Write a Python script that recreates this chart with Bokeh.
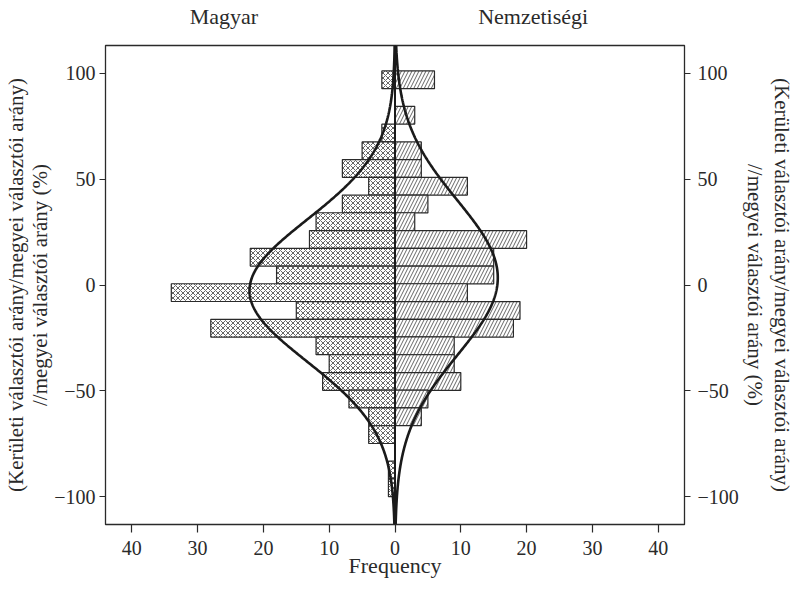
import numpy as np
from bokeh.plotting import figure
from bokeh.models import Range1d, LinearAxis, FixedTicker, Span
from bokeh.embed import file_html
from bokeh.resources import INLINE

# ---- data ----
bin_centers = [96.8, 88.4, 80.1, 71.7, 63.3, 55.0, 46.6, 38.2, 29.9, 21.5, 13.1, 4.7,
               -3.6, -12.0, -20.4, -28.7, -37.1, -45.5, -53.8, -62.2, -70.6, -79.0, -87.3, -95.7]
bin_height = 8.37
magyar_counts = [2, 0, 0, 2, 5, 8, 4, 8, 12, 13, 22, 18, 34, 15, 28, 12, 10, 11, 7, 4, 4, 0, 1, 1]
nemzetisegi_counts = [6, 0, 3, 0, 4, 4, 11, 5, 3, 20, 15, 15, 11, 19, 18, 9, 9, 10, 5, 4, 0, 0, 0, 0]
group_names = ["Magyar", "Nemzetiségi"]
group_label_x = [-26, 21]
x_ticks = [-40, -30, -20, -10, 0, 10, 20, 30, 40]
x_tick_labels = ["40", "30", "20", "10", "0", "10", "20", "30", "40"]
y_ticks = [-100, -50, 0, 50, 100]
y_tick_labels = ["\u2212100", "\u221250", "0", "50", "100"]
y_label_line1 = "(Kerületi választói arány/megyei választói arány)"
y_label_line2 = "//megyei választói arány (%)"
x_label = "Frequency"

FONT = "Liberation Serif"
INK = "#2a2a2a"

p = figure(width=796, height=581, output_backend="svg", toolbar_location=None,
           x_range=Range1d(-44, 44), y_range=Range1d(-113, 113),
           x_axis_location=None, y_axis_location=None,
           min_border_left=104, min_border_right=111, min_border_top=35, min_border_bottom=57)
p.grid.visible = False
p.outline_line_color = INK
p.outline_line_width = 1.3
p.background_fill_color = "white"
p.border_fill_color = "white"

centers = np.array(bin_centers)
m = np.array(magyar_counts, dtype=float)
n = np.array(nemzetisegi_counts, dtype=float)

mk = m > 0
p.hbar(y=centers[mk], height=bin_height, left=-m[mk], right=0,
       fill_color="white", line_color=INK, line_width=1.2,
       hatch_pattern="x", hatch_scale=5, hatch_weight=0.9, hatch_color="#555555")
nk = n > 0
p.hbar(y=centers[nk], height=bin_height, left=0, right=n[nk],
       fill_color="white", line_color=INK, line_width=1.2,
       hatch_pattern="/", hatch_scale=7, hatch_weight=0.9, hatch_color="#555555")

# fitted normal curves from the histogram data
ys = np.linspace(-113, 113, 600)
def normal_curve(counts):
    tot = counts.sum()
    mu = (counts * centers).sum() / tot
    sd = np.sqrt((counts * (centers - mu) ** 2).sum() / tot)
    return tot * bin_height / (sd * np.sqrt(2 * np.pi)) * np.exp(-0.5 * ((ys - mu) / sd) ** 2)

p.line(-normal_curve(m), ys, line_color="#1a1a1a", line_width=2.6)
p.line(normal_curve(n), ys, line_color="#1a1a1a", line_width=2.6)
p.add_layout(Span(location=0, dimension="height", line_color="#1a1a1a", line_width=2))

def style(ax, size="20px", label_size="21px"):
    ax.major_label_text_font = FONT
    ax.major_label_text_font_size = size
    ax.major_label_text_color = INK
    ax.axis_label_text_font = FONT
    ax.axis_label_text_font_size = label_size
    ax.axis_label_text_font_style = "normal"
    ax.axis_label_text_color = INK
    ax.axis_line_color = INK
    ax.major_tick_line_color = INK
    ax.major_tick_line_width = 1.2
    ax.minor_tick_line_color = None
    ax.major_tick_in = 0

standoffs = {"left": (4, -1, -2), "right": (7, 1, 0)}
for side in ("left", "right"):
    tick_so, inner_so, outer_so = standoffs[side]
    inner = LinearAxis(ticker=FixedTicker(ticks=y_ticks),
                       major_label_overrides=dict(zip(y_ticks, y_tick_labels)),
                       axis_label=y_label_line2)
    style(inner)
    inner.major_tick_out = 6
    inner.major_label_standoff = tick_so
    inner.axis_label_standoff = inner_so
    p.add_layout(inner, side)
    outer = LinearAxis(ticker=FixedTicker(ticks=[]), axis_label=y_label_line1)
    style(outer)
    outer.axis_line_color = None
    outer.major_tick_out = 0
    outer.major_label_standoff = 0
    outer.axis_label_standoff = outer_so
    p.add_layout(outer, side)

bottom = LinearAxis(ticker=FixedTicker(ticks=x_ticks),
                    major_label_overrides=dict(zip(x_ticks, x_tick_labels)),
                    axis_label=x_label)
style(bottom, label_size="22px")
bottom.major_tick_out = 8
bottom.major_label_standoff = 8
bottom.axis_label_standoff = -5
p.add_layout(bottom, "below")

top = LinearAxis(ticker=FixedTicker(ticks=group_label_x),
                 major_label_overrides=dict(zip(group_label_x, group_names)))
style(top, "22px")
top.axis_line_color = None
top.major_tick_line_color = None
top.major_label_standoff = 11
p.add_layout(top, "above")

open("out.html", "w").write(file_html(p, INLINE))
